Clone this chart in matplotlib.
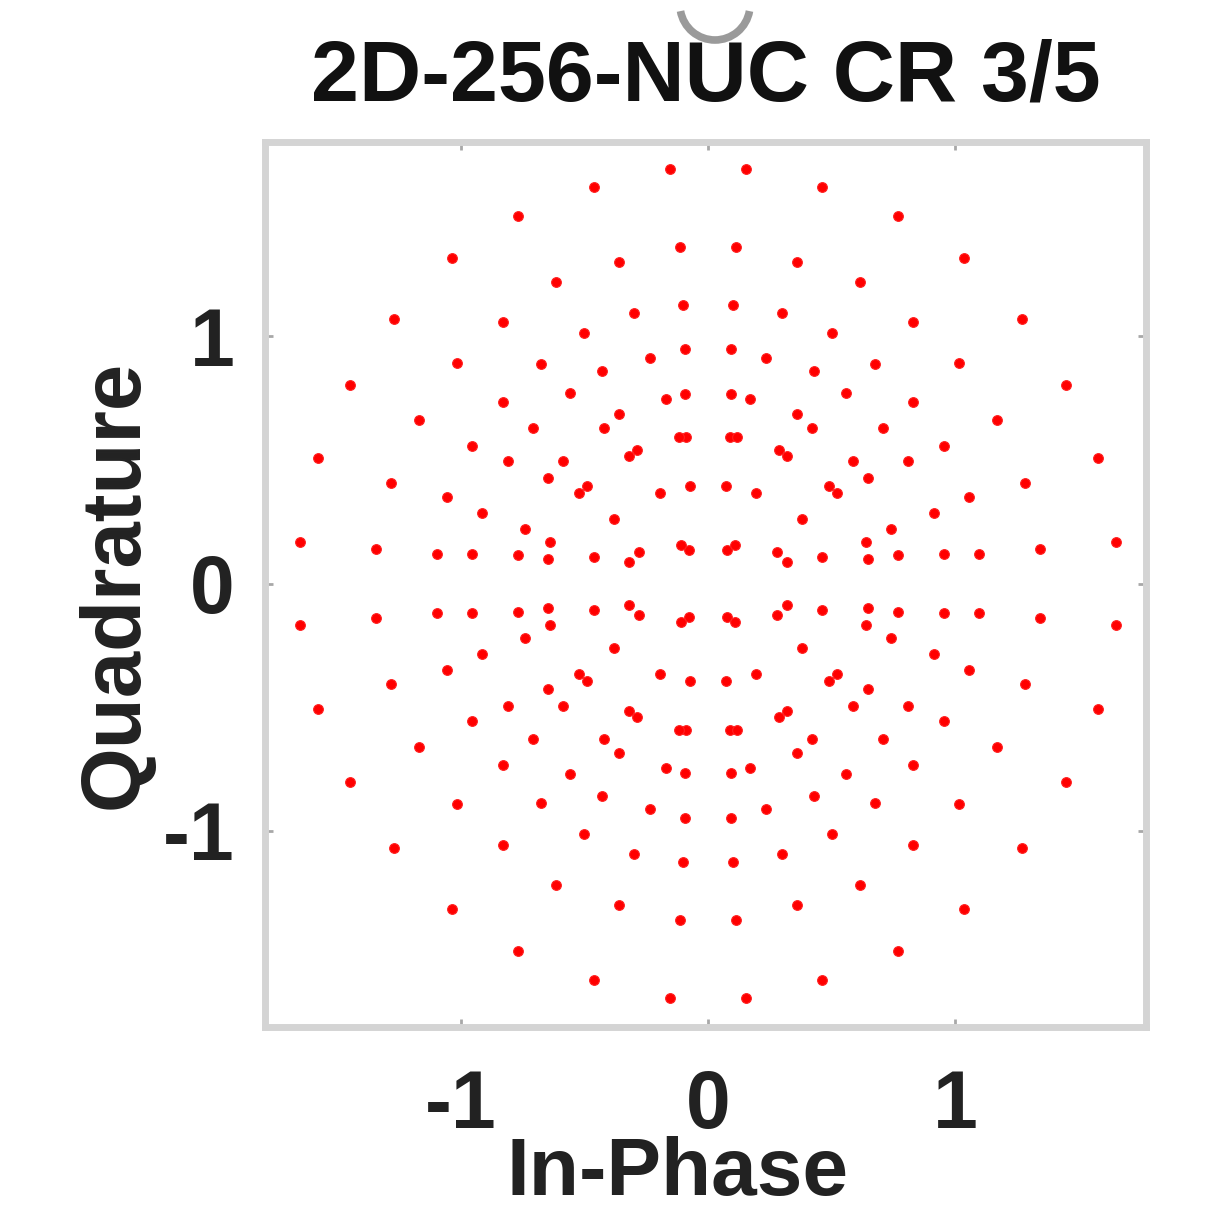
import matplotlib
matplotlib.use("Agg")
import matplotlib.pyplot as plt
from matplotlib.patches import Arc
import numpy as np

plt.rcParams['font.family'] = ['Liberation Sans', 'DejaVu Sans']

# First-quadrant constellation points (the rest follow by symmetry)
i_q1 = [0.152, 0.461, 0.766, 1.033, 1.267, 1.445, 1.577, 1.647,
        0.112, 0.360, 0.614, 0.827, 1.014, 1.169, 1.281, 1.341,
        0.102, 0.298, 0.502, 0.676, 0.830, 0.954, 1.055, 1.096,
        0.092, 0.234, 0.428, 0.556, 0.708, 0.809, 0.913, 0.954,
        0.092, 0.170, 0.358, 0.419, 0.585, 0.645, 0.738, 0.766,
        0.089, 0.117, 0.288, 0.318, 0.489, 0.520, 0.637, 0.648,
        0.073, 0.194, 0.379, 0.459, 0.077, 0.109, 0.278, 0.318]
q_q1 = [1.677, 1.606, 1.488, 1.317, 1.071, 0.804, 0.507, 0.169,
        1.361, 1.302, 1.222, 1.060, 0.891, 0.662, 0.406, 0.138,
        1.128, 1.094, 1.013, 0.889, 0.736, 0.557, 0.351, 0.118,
        0.949, 0.911, 0.860, 0.770, 0.628, 0.496, 0.287, 0.118,
        0.766, 0.746, 0.686, 0.628, 0.497, 0.426, 0.219, 0.115,
        0.591, 0.593, 0.540, 0.516, 0.395, 0.365, 0.169, 0.099,
        0.395, 0.365, 0.260, 0.109, 0.136, 0.156, 0.129, 0.088]
quadrant_signs = [(1, 1), (-1, 1), (-1, -1), (1, -1)]
ticks = [-1, 0, 1]
tick_labels = ['-1', '0', '1']
title = '2D-256-NUC CR 3/5'

W, H = 1232, 1214
fig = plt.figure(figsize=(W / 100, H / 100), dpi=100)
ax = fig.add_axes([265 / W, 1 - 1027 / H, (1146 - 265) / W, (1027 - 142) / H])

I = np.concatenate([sx * np.array(i_q1) for sx, sy in quadrant_signs])
Q = np.concatenate([sy * np.array(q_q1) for sx, sy in quadrant_signs])
ax.plot(I, Q, linestyle='none', marker='o', markersize=7.0,
        markerfacecolor='#ff0000', markeredgecolor='#ff2020', markeredgewidth=0.8)

ax.set_xlim(-1.79, 1.77)
ax.set_ylim(-1.795, 1.787)
ax.set_xticks(ticks)
ax.set_xticklabels(tick_labels, fontweight='bold')
ax.set_yticks(ticks)
ax.set_yticklabels(tick_labels, fontweight='bold')

for s in ax.spines.values():
    s.set_color('#d4d4d4')
    s.set_linewidth(5.0)
ax.tick_params(axis='both', direction='in', length=6, width=2, color='#a8a8a8',
               top=True, right=True, labelsize=58, labelcolor='#222222')
ax.tick_params(axis='x', pad=30)
ax.tick_params(axis='y', pad=22)

ax.set_xlabel('In-Phase', fontsize=59, fontweight='bold', color='#222222')
ax.xaxis.set_label_coords((678 - 265) / (1146 - 265), 1 - (1212 - 142) / (1027 - 142))
ax.xaxis.label.set_va('bottom')
ax.set_ylabel('Quadrature', fontsize=60, fontweight='bold', color='#222222', labelpad=6)
ax.set_title(title, fontsize=62, fontweight='bold', color='#111111', pad=30)

arc = Arc((715 / 100, (H - 5) / 100), 0.70, 0.70, theta1=190, theta2=350,
          transform=fig.dpi_scale_trans, color='#9a9a9a', linewidth=5.5)
fig.add_artist(arc)

fig.savefig('out.png', dpi=100)
